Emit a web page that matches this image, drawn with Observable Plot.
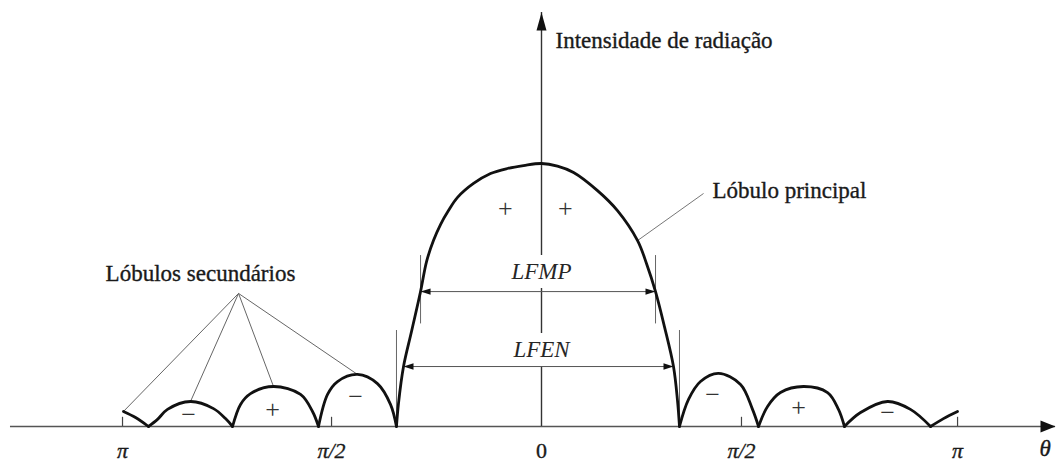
<!DOCTYPE html>
<html>
<head>
<meta charset="utf-8">
<script src="https://cdn.jsdelivr.net/npm/d3@7"></script>
<script src="https://cdn.jsdelivr.net/npm/@observablehq/plot@0.6"></script>
<style>
  html, body { margin: 0; padding: 0; background: #fff; }
  #chart { width: 1056px; height: 463px; overflow: hidden; }
  #chart svg text { font-family: "Liberation Serif", "Times New Roman", serif !important; }
</style>
</head>
<body>
<div id="chart"></div>
<script>
// Radiation pattern of an antenna: normalised intensity against angle θ (rad).

// Main lobe
const mainTheta = [-1.090, -1.075, -1.037, -0.977, -0.909, -0.864, -0.812, -0.759, -0.699, -0.631, -0.511, -0.383, -0.256, -0.135,
                   0, 0.120, 0.241, 0.421, 0.571, 0.722, 0.789, 0.857, 0.924, 0.992, 1.022, 1.037];
const mainIntensity = [0, 0.087, 0.228, 0.361, 0.513, 0.627, 0.707, 0.768, 0.821, 0.871, 0.924, 0.962, 0.981, 0.992,
                       1, 0.990, 0.966, 0.897, 0.821, 0.707, 0.620, 0.513, 0.380, 0.228, 0.099, 0];

// Side lobes, left to right (the outer two are cut at ±π)
const sideTheta = [
  [-3.142, -3.051, -2.954],
  [-2.954, -2.886, -2.811, -2.638, -2.465, -2.375, -2.322],
  [-2.322, -2.262, -2.187, -2.014, -1.811, -1.721, -1.676],
  [-1.676, -1.608, -1.533, -1.383, -1.233, -1.135, -1.090],
  [1.037, 1.105, 1.195, 1.330, 1.496, 1.586, 1.631],
  [1.631, 1.699, 1.796, 1.969, 2.150, 2.232, 2.277],
  [2.277, 2.398, 2.601, 2.773, 2.924],
  [2.924, 3.021, 3.127]
];
const sideIntensity = [
  [0.057, 0.034, 0],
  [0, 0.027, 0.065, 0.095, 0.068, 0.030, 0],
  [0, 0.084, 0.125, 0.152, 0.122, 0.057, 0],
  [0, 0.122, 0.171, 0.198, 0.163, 0.084, 0],
  [0, 0.103, 0.171, 0.202, 0.160, 0.065, 0],
  [0, 0.076, 0.129, 0.152, 0.129, 0.065, 0],
  [0, 0.053, 0.095, 0.065, 0],
  [0, 0.030, 0.057]
];

// Field sign inside each lobe
const signText      = ["−", "+", "−", "+", "+", "−", "+", "−"];
const signTheta     = [-2.653, -2.022, -1.398, -0.271, 0.180, 1.285, 1.932, 2.601];
const signIntensity = [0.046, 0.065, 0.114, 0.829, 0.829, 0.122, 0.072, 0.053];

// θ axis ticks
const tickTheta  = [-3.149, -1.578, 0, 1.503, 3.127];
const tickLabels = ["π", "π/2", "0", "π/2", "π"];

// Beamwidth levels: half power (LFMP) and first nulls (LFEN)
const lfmpLevel = 0.513;
const lfenLevel = 0.228;

// ---- tables for the marks ----
const lobes = [];
sideTheta.slice(0, 4).forEach((ts, k) => ts.forEach((t, i) => lobes.push({lobe: "s" + k, theta: t, intensity: sideIntensity[k][i]})));
mainTheta.forEach((t, i) => lobes.push({lobe: "main", theta: t, intensity: mainIntensity[i]}));
sideTheta.slice(4).forEach((ts, k) => ts.forEach((t, i) => lobes.push({lobe: "s" + (k + 4), theta: t, intensity: sideIntensity[k + 4][i]})));

const mainRows = mainTheta.map((t, i) => ({theta: t, intensity: mainIntensity[i]}));
const atLevel = (v) => mainRows.filter(d => d.intensity === v);
const [lfmpL, lfmpR] = atLevel(lfmpLevel);
const [lfenL, lfenR] = atLevel(lfenLevel);
const nullL = mainRows[0], nullR = mainRows[mainRows.length - 1];

const signs = signText.map((s, i) => ({text: s, theta: signTheta[i], intensity: signIntensity[i]}));
const ticks = tickTheta.map((t, i) => ({theta: t, label: tickLabels[i]}));

// peak of each left side lobe, where the callout lines end
const leftPeaks = sideTheta.slice(0, 4).map((ts, k) => {
  const v = sideIntensity[k];
  const j = v.indexOf(d3.max(v));
  return {theta: ts[j], intensity: v[j]};
});

// callouts
const secHub   = {theta: -2.277, intensity: 0.506};
const secLabel = {theta: -2.563, intensity: 0.583, text: "Lóbulos secundários"};
const mainHit  = mainRows.find(d => d.theta === 0.722);
const mainEnd  = {theta: 1.218, intensity: 0.886};
const mainLabel = {theta: 1.285, intensity: 0.895, text: "Lóbulo principal"};
const yTitle   = {theta: 0, intensity: 1.469, text: "Intensidade de radiação"};
const xTitle   = {theta: 3.743, intensity: 0, text: "θ"};

// axis extent
const axisThetaMin = -3.991, axisThetaMax = 3.863, axisIntensityMax = 1.574;

// filled arrowhead with its tip at the origin, pointing along (ux, uy)
const head = (len, half, ux, uy) => ({
  draw(ctx) {
    ctx.moveTo(0, 0);
    ctx.lineTo(-len * ux - half * uy, -len * uy + half * ux);
    ctx.lineTo(-len * ux + half * uy, -len * uy - half * ux);
    ctx.closePath();
  }
});

const serif = "'Liberation Serif', 'Times New Roman', serif";
const ink = "#1a1a1a";
// a hairline of the text colour gives the slightly heavy print look
const textStyle = {fill: ink, stroke: ink, strokeWidth: 0.35, fontFamily: serif};

const chart = Plot.plot({
  width: 1056,
  height: 463,
  x: {domain: [-Math.PI, Math.PI], range: [123, 959], axis: null},
  y: {domain: [0, 1], range: [426, 163], axis: null},
  style: {background: "white", fontFamily: serif},
  marks: [
    // axes
    Plot.ruleY([0], {x1: axisThetaMin, x2: axisThetaMax, stroke: "#555", strokeWidth: 1.6}),
    Plot.ruleX([0], {y1: 0, y2: axisIntensityMax, stroke: "#333", strokeWidth: 1.4}),
    Plot.dot([{theta: 0, intensity: axisIntensityMax}], {x: "theta", y: "intensity", symbol: head(18, 5, 0, -1), fill: "#111", stroke: "none"}),
    Plot.dot([{theta: axisThetaMax, intensity: 0}], {x: "theta", y: "intensity", symbol: head(15, 6, 1, 0), fill: "#111", stroke: "none"}),
    Plot.ruleX(ticks.filter(d => d.label !== "0"), {x: "theta", y1: 0, y2: 0.035, stroke: "#444", strokeWidth: 1.2}),
    Plot.text(ticks.filter(d => d.label !== "0"), {x: "theta", y: 0, text: "label", dy: 24, fontSize: 22, fontStyle: "italic", ...textStyle}),
    Plot.text(ticks.filter(d => d.label === "0"), {x: "theta", y: 0, text: "label", dy: 24, fontSize: 22, ...textStyle}),
    Plot.text([xTitle], {x: "theta", y: "intensity", text: "text", dy: 22, textAnchor: "start", fontSize: 23, fontStyle: "italic", ...textStyle}),

    // beamwidth labels, knocking out the vertical axis behind them
    Plot.text([{t: "LFMP", v: 0.587}, {t: "LFEN", v: 0.293}], {
      x: 0, y: "v", text: "t", fontSize: 23, fontStyle: "italic", fill: "#262626",
      stroke: "white", strokeWidth: 18, paintOrder: "stroke", fontFamily: serif
    }),

    // extension lines
    Plot.ruleX([lfmpL, lfmpR], {x: "theta", y1: 0.39, y2: 0.65, stroke: "#666", strokeWidth: 1}),
    Plot.ruleX([nullL, nullR], {x: "theta", y1: 0, y2: 0.365, stroke: "#666", strokeWidth: 1}),

    // dimension lines with arrowheads
    Plot.link([[lfmpL, lfmpR], [lfenL, lfenR]], {
      x1: d => d[0].theta, y1: d => d[0].intensity, x2: d => d[1].theta, y2: d => d[1].intensity,
      stroke: "#555", strokeWidth: 1
    }),
    Plot.dot([lfmpL, lfenL], {x: "theta", y: "intensity", symbol: head(10, 3.2, -1, 0), fill: "#111", stroke: "none"}),
    Plot.dot([lfmpR, lfenR], {x: "theta", y: "intensity", symbol: head(10, 3.2, 1, 0), fill: "#111", stroke: "none"}),

    // callout lines
    Plot.link(leftPeaks, {x1: secHub.theta, y1: secHub.intensity, x2: "theta", y2: "intensity", stroke: "#666", strokeWidth: 1}),
    Plot.link([mainHit], {x1: "theta", y1: "intensity", x2: mainEnd.theta, y2: mainEnd.intensity, stroke: "#777", strokeWidth: 1}),

    // the pattern
    Plot.line(lobes, {x: "theta", y: "intensity", z: "lobe", curve: "catmull-rom", stroke: "#111", strokeWidth: 2.8, strokeLinejoin: "round"}),

    // field signs
    Plot.text(signs, {x: "theta", y: "intensity", text: "text", fontSize: 26, fill: "#333", fontFamily: serif}),

    // titles
    Plot.text([yTitle], {x: "theta", y: "intensity", text: "text", dx: 14, textAnchor: "start", fontSize: 23, ...textStyle}),
    Plot.text([mainLabel], {x: "theta", y: "intensity", text: "text", textAnchor: "start", fontSize: 23, ...textStyle}),
    Plot.text([secLabel], {x: "theta", y: "intensity", text: "text", fontSize: 23, ...textStyle})
  ]
});

document.getElementById("chart").append(chart);
</script>
</body>
</html>
